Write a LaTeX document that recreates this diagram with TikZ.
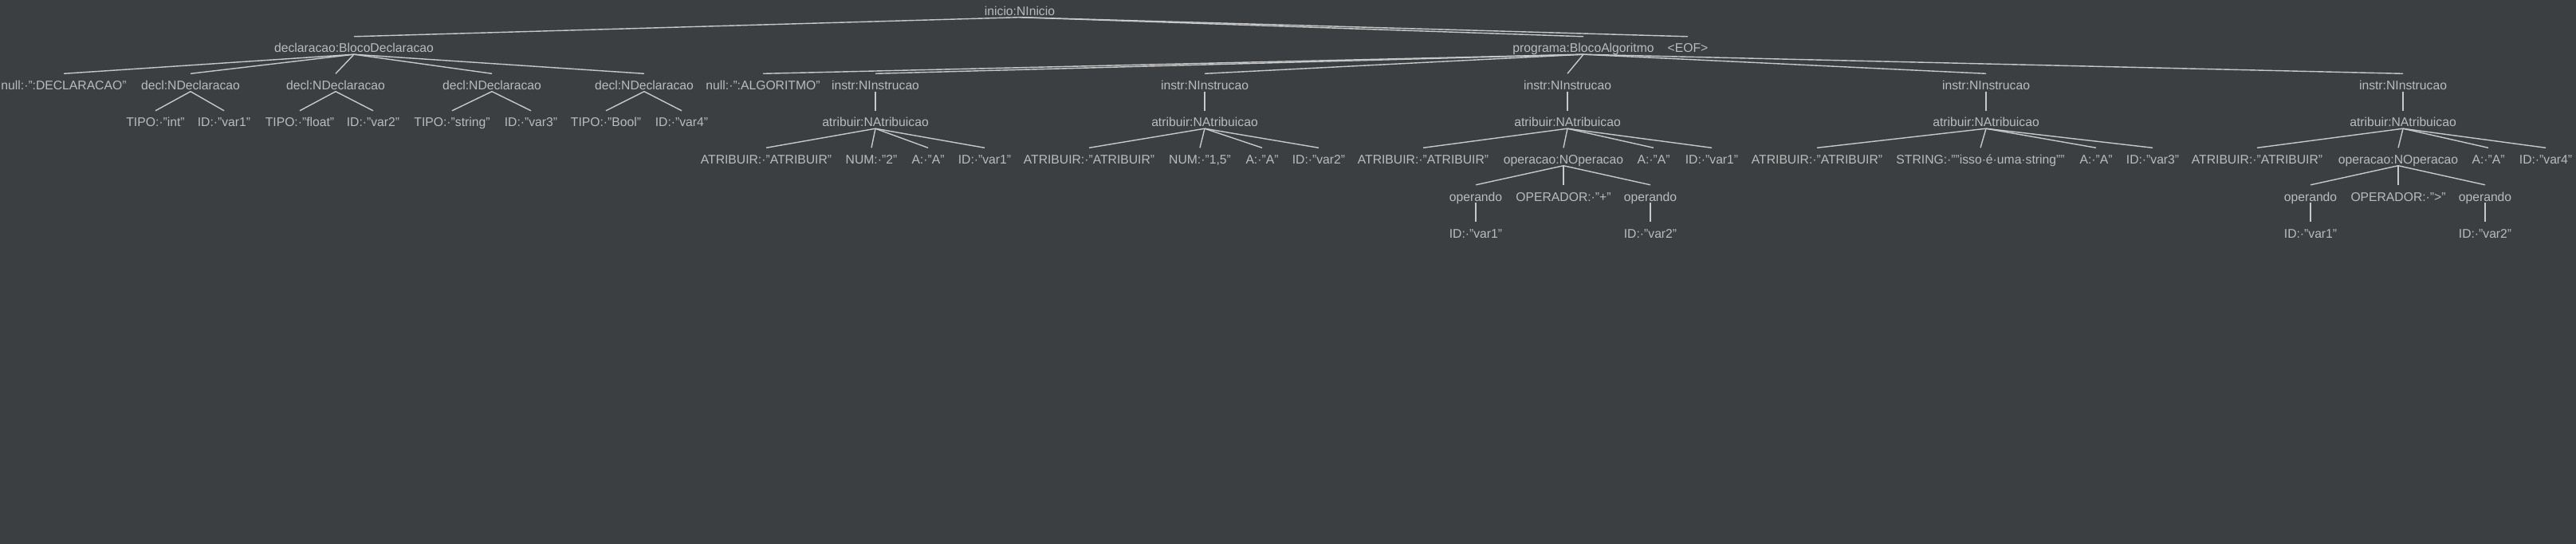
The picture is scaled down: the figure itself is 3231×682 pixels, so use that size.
\documentclass[tikz,border=0pt]{standalone}
\usepackage{fontspec}
\setmainfont{Liberation Sans}
\definecolor{bg}{HTML}{3C3F41}
\definecolor{txt}{HTML}{BBBBBB}
\definecolor{ln}{HTML}{C8C8C8}
\begin{document}
\begin{tikzpicture}[x=1pt,y=-1pt,
  tn/.style={anchor=base,inner sep=0pt,text height=20pt,text depth=2pt,text=txt,font=\fontsize{15.7}{18}\selectfont},
  edge/.style={draw=ln,line width=1.4pt}]
\fill[bg] (0,0) rectangle (3231,682);
\useasboundingbox (0,0) rectangle (3231,682);
% row 0
\node[tn] (root) at (1279,19.5) {inicio:NInicio};
% row 1
\node[tn] (decl) at (444,66) {declaracao:BlocoDeclaracao};
\node[tn] (prog) at (1986,66) {programa:BlocoAlgoritmo};
\node[tn] (eof) at (2117,66) {<EOF>};
% row 2
\node[tn] (dnull) at (80,112.5) {null:·":DECLARACAO"};
\node[tn] (d1) at (239,112.5) {decl:NDeclaracao};
\node[tn] (d2) at (421,112.5) {decl:NDeclaracao};
\node[tn] (d3) at (617,112.5) {decl:NDeclaracao};
\node[tn] (d4) at (808,112.5) {decl:NDeclaracao};
\node[tn] (anull) at (957,112.5) {null:·":ALGORITMO"};
\node[tn] (i1) at (1098,112.5) {instr:NInstrucao};
\node[tn] (i2) at (1511,112.5) {instr:NInstrucao};
\node[tn] (i3) at (1966,112.5) {instr:NInstrucao};
\node[tn] (i4) at (2491,112.5) {instr:NInstrucao};
\node[tn] (i5) at (3014,112.5) {instr:NInstrucao};
% row 3
\node[tn] (d1t) at (195,159) {TIPO:·"int"};
\node[tn] (d1i) at (281,159) {ID:·"var1"};
\node[tn] (d2t) at (376,159) {TIPO:·"float"};
\node[tn] (d2i) at (468,159) {ID:·"var2"};
\node[tn] (d3t) at (567,159) {TIPO:·"string"};
\node[tn] (d3i) at (666,159) {ID:·"var3"};
\node[tn] (d4t) at (760,159) {TIPO:·"Bool"};
\node[tn] (d4i) at (855,159) {ID:·"var4"};
\node[tn] (a1) at (1098,159) {atribuir:NAtribuicao};
\node[tn] (a2) at (1511,159) {atribuir:NAtribuicao};
\node[tn] (a3) at (1966,159) {atribuir:NAtribuicao};
\node[tn] (a4) at (2491,159) {atribuir:NAtribuicao};
\node[tn] (a5) at (3014,159) {atribuir:NAtribuicao};
% row 4
\node[tn] (a1c1) at (961,205.5) {ATRIBUIR:·"ATRIBUIR"};
\node[tn] (a1c2) at (1093,205.5) {NUM:·"2"};
\node[tn] (a1c3) at (1164,205.5) {A:·"A"};
\node[tn] (a1c4) at (1235,205.5) {ID:·"var1"};
\node[tn] (a2c1) at (1366,205.5) {ATRIBUIR:·"ATRIBUIR"};
\node[tn] (a2c2) at (1505,205.5) {NUM:·"1,5"};
\node[tn] (a2c3) at (1583,205.5) {A:·"A"};
\node[tn] (a2c4) at (1654,205.5) {ID:·"var2"};
\node[tn] (a3c1) at (1785,205.5) {ATRIBUIR:·"ATRIBUIR"};
\node[tn] (op1) at (1961,205.5) {operacao:NOperacao};
\node[tn] (a3c3) at (2074,205.5) {A:·"A"};
\node[tn] (a3c4) at (2147,205.5) {ID:·"var1"};
\node[tn] (a4c1) at (2279,205.5) {ATRIBUIR:·"ATRIBUIR"};
\node[tn] (a4c2) at (2484,205.5) {STRING:·""isso·é·uma·string""};
\node[tn] (a4c3) at (2629,205.5) {A:·"A"};
\node[tn] (a4c4) at (2700,205.5) {ID:·"var3"};
\node[tn] (a5c1) at (2831,205.5) {ATRIBUIR:·"ATRIBUIR"};
\node[tn] (op2) at (3008,205.5) {operacao:NOperacao};
\node[tn] (a5c3) at (3121,205.5) {A:·"A"};
\node[tn] (a5c4) at (3193,205.5) {ID:·"var4"};
% row 5
\node[tn] (op1a) at (1851,252) {operando};
\node[tn] (op1o) at (1961,252) {OPERADOR:·"+"};
\node[tn] (op1b) at (2070,252) {operando};
\node[tn] (op2a) at (2898,252) {operando};
\node[tn] (op2o) at (3008,252) {OPERADOR:·">"};
\node[tn] (op2b) at (3117,252) {operando};
% row 6
\node[tn] (op1ai) at (1851,298.5) {ID:·"var1"};
\node[tn] (op1bi) at (2070,298.5) {ID:·"var2"};
\node[tn] (op2ai) at (2898,298.5) {ID:·"var1"};
\node[tn] (op2bi) at (3117,298.5) {ID:·"var2"};
% edges
\foreach \p/\c in {root/decl,root/prog,root/eof,
  decl/dnull,decl/d1,decl/d2,decl/d3,decl/d4,
  d1/d1t,d1/d1i,d2/d2t,d2/d2i,d3/d3t,d3/d3i,d4/d4t,d4/d4i,
  prog/anull,prog/i1,prog/i2,prog/i3,prog/i4,prog/i5,
  i1/a1,i2/a2,i3/a3,i4/a4,i5/a5,
  a1/a1c1,a1/a1c2,a1/a1c3,a1/a1c4,
  a2/a2c1,a2/a2c2,a2/a2c3,a2/a2c4,
  a3/a3c1,a3/op1,a3/a3c3,a3/a3c4,
  a4/a4c1,a4/a4c2,a4/a4c3,a4/a4c4,
  a5/a5c1,a5/op2,a5/a5c3,a5/a5c4,
  op1/op1a,op1/op1o,op1/op1b,op1a/op1ai,op1b/op1bi,
  op2/op2a,op2/op2o,op2/op2b,op2a/op2ai,op2b/op2bi}
  \draw[edge] (\p.south) -- (\c.north);
\end{tikzpicture}
\end{document}
